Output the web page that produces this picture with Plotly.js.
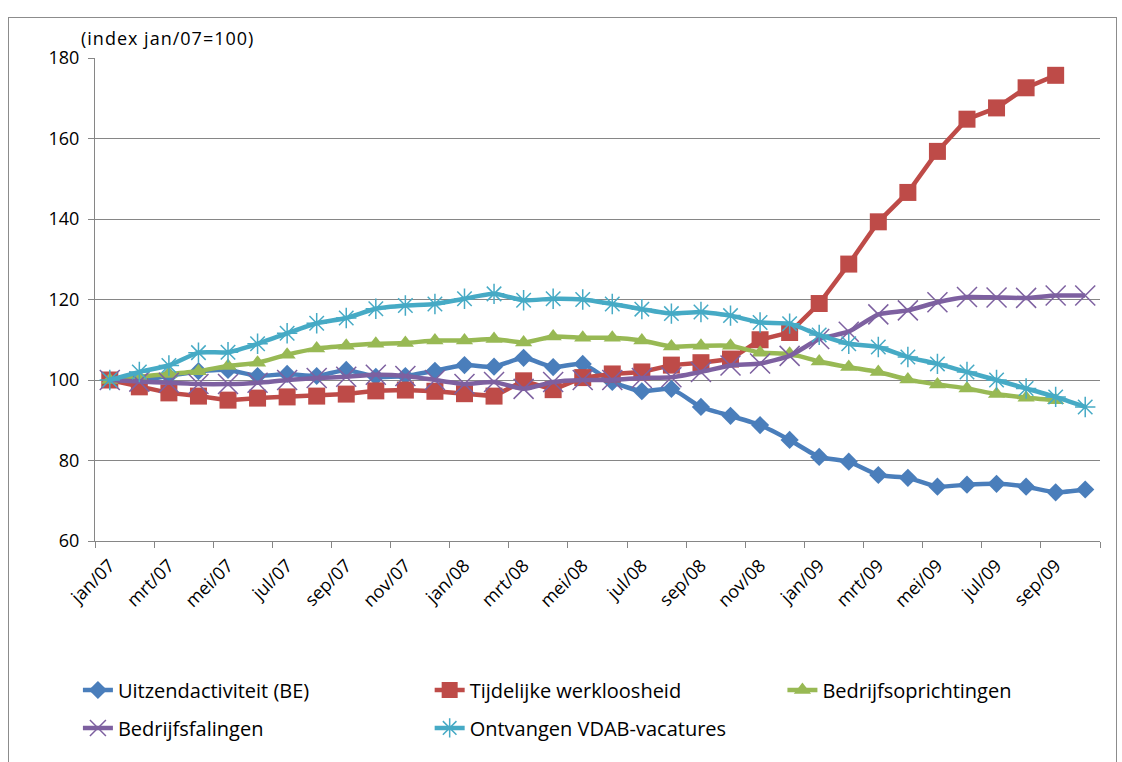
<!DOCTYPE html>
<html>
<head>
<meta charset="utf-8">
<script src="https://cdn.plot.ly/plotly-3.0.1.min.js"></script>
<style>
  html, body { margin: 0; padding: 0; background: #fff; }
  #chart { position: absolute; left: 0; top: 0; width: 1122px; height: 762px; }
  #frame { position: absolute; left: 8px; top: 17px; width: 1107px; height: 760px; border: 1px solid #8c8c8c; pointer-events: none; }
  #chart .annotation-text { letter-spacing: 1px; }
</style>
</head>
<body>
<div id="chart"></div>
<div id="frame"></div>
<script>
// Months (categories)
const months = [
  "jan/07","feb/07","mrt/07","apr/07","mei/07","jun/07","jul/07","aug/07","sep/07","okt/07","nov/07","dec/07",
  "jan/08","feb/08","mrt/08","apr/08","mei/08","jun/08","jul/08","aug/08","sep/08","okt/08","nov/08","dec/08",
  "jan/09","feb/09","mrt/09","apr/09","mei/09","jun/09","jul/09","aug/09","sep/09","okt/09"
];

// Series values (index jan/07 = 100)
const uitzendactiviteit = [100, 100, 101, 102.2, 102.5, 101, 101.5, 101, 102.5, 100.8, 101, 102.3,
  103.7, 103.3, 105.5, 103.2, 104, 99.5, 97.2, 97.8, 93.3, 91.1, 88.8, 85.1,
  80.9, 79.7, 76.4, 75.7, 73.5, 74, 74.2, 73.5, 72.1, 72.8];

const tijdelijkeWerkloosheid = [100, 98.3, 96.8, 96, 95, 95.5, 95.8, 96, 96.5, 97.3, 97.5, 97.2,
  96.6, 96, 99.8, 97.6, 100.6, 101.5, 102, 103.7, 104.3, 105.2, 110, 111.8,
  119, 128.8, 139.3, 146.6, 156.8, 164.8, 167.6, 172.6, 175.7];

const bedrijfsoprichtingen = [100, 100.8, 101.5, 102.2, 103.5, 104.3, 106.3, 107.8, 108.5, 109, 109.2, 109.8,
  109.8, 110.2, 109.3, 110.8, 110.5, 110.5, 109.8, 108.3, 108.5, 108.5, 106.8, 106.5,
  104.6, 103.2, 102, 100.1, 98.9, 97.9, 96.5, 95.6, 95];

const bedrijfsfalingen = [100, 99.6, 99.3, 99, 99, 99.3, 100, 100.5, 100.8, 101.3, 101, 100,
  99, 99.5, 97.8, 99.5, 100, 100, 100.5, 100.7, 102, 103.6, 104.1, 106,
  110.2, 112, 116.3, 117.3, 119.3, 120.6, 120.5, 120.4, 121, 121];

const vdabVacatures = [100, 102, 103.6, 106.8, 106.9, 109, 111.6, 114.1, 115.4, 117.7, 118.5, 118.9,
  120.2, 121.4, 119.8, 120.2, 120, 118.9, 117.6, 116.5, 116.9, 116, 114.3, 114,
  111.2, 109, 108.2, 105.7, 104, 102, 100, 97.9, 95.8, 93.3];

const seriesNames = ["Uitzendactiviteit (BE)", "Tijdelijke werkloosheid", "Bedrijfsoprichtingen",
  "Bedrijfsfalingen", "Ontvangen VDAB-vacatures"];
const yTicks = [60, 80, 100, 120, 140, 160, 180];

const FONT = "Open Sans, Noto Sans, sans-serif";
const colors = ["#4A7EBB", "#BE4B48", "#98B954", "#7D60A0", "#46AAC5"];

function trace(y, i, symbol, size, lineOnly, legendId) {
  const t = {
    type: "scatter", mode: "lines+markers",
    x: months.slice(0, y.length), y: y, name: seriesNames[i],
    legend: legendId,
    line: { color: colors[i], width: 4.5, shape: "spline", smoothing: 0.5 },
    marker: { symbol: symbol, size: size, color: colors[i] },
    hoverinfo: "x+y+name"
  };
  if (lineOnly) {
    t.marker.line = { color: colors[i], width: 1.5 };
  } else {
    t.marker.line = { width: 0 };
  }
  return t;
}

const data = [
  trace(uitzendactiviteit, 0, "diamond", 14, false, "legend"),
  trace(tijdelijkeWerkloosheid, 1, "square", 17, false, "legend2"),
  trace(bedrijfsoprichtingen, 2, "triangle-up", 15, false, "legend3"),
  trace(bedrijfsfalingen, 3, "x-thin-open", 20, true, "legend4"),
  trace(vdabVacatures, 4, "asterisk-open", 17, true, "legend5")
];
data[1].line.shape = "linear";

function leg(x, y) {
  return { x: x, y: y, xanchor: "left", yanchor: "middle", orientation: "h",
    font: { family: FONT, size: 20, color: "#000" }, bgcolor: "rgba(0,0,0,0)", borderwidth: 0 };
}

const layout = {
  width: 1122, height: 762,
  margin: { l: 95, r: 22, t: 58, b: 221 },
  paper_bgcolor: "#fff", plot_bgcolor: "#fff",
  showlegend: true,
  xaxis: {
    type: "category", range: [-0.5, 33.5],
    tickmode: "linear", tick0: 0, dtick: 2, tickson: "boundaries",
    ticks: "outside", ticklen: 6, tickcolor: "#868686",
    showline: true, linecolor: "#868686", linewidth: 1,
    showgrid: false, tickangle: -45, ticklabelstandoff: 6,
    tickfont: { family: FONT, size: 18, color: "#000" },
    fixedrange: true
  },
  yaxis: {
    range: [60, 180], tickvals: yTicks,
    ticks: "outside", ticklen: 6, tickcolor: "#868686",
    showline: true, linecolor: "#868686", linewidth: 1,
    showgrid: true, gridcolor: "#868686", gridwidth: 1,
    zeroline: false, ticklabelstandoff: 5,
    tickfont: { family: FONT, size: 18, color: "#000" },
    fixedrange: true
  },
  legend: leg(-0.017, -0.3085),
  legend2: leg(0.333, -0.3085),
  legend3: leg(0.684, -0.3085),
  legend4: leg(-0.017, -0.387),
  legend5: leg(0.333, -0.387),
  annotations: [{
    xref: "paper", yref: "paper", x: -0.007, y: 1.0414, xanchor: "left", yanchor: "middle",
    text: "(index jan/07=100)", showarrow: false,
    font: { family: FONT, size: 18, color: "#000" }
  }]
};

Plotly.newPlot("chart", data, layout, { displayModeBar: false, staticPlot: true });
</script>
</body>
</html>
